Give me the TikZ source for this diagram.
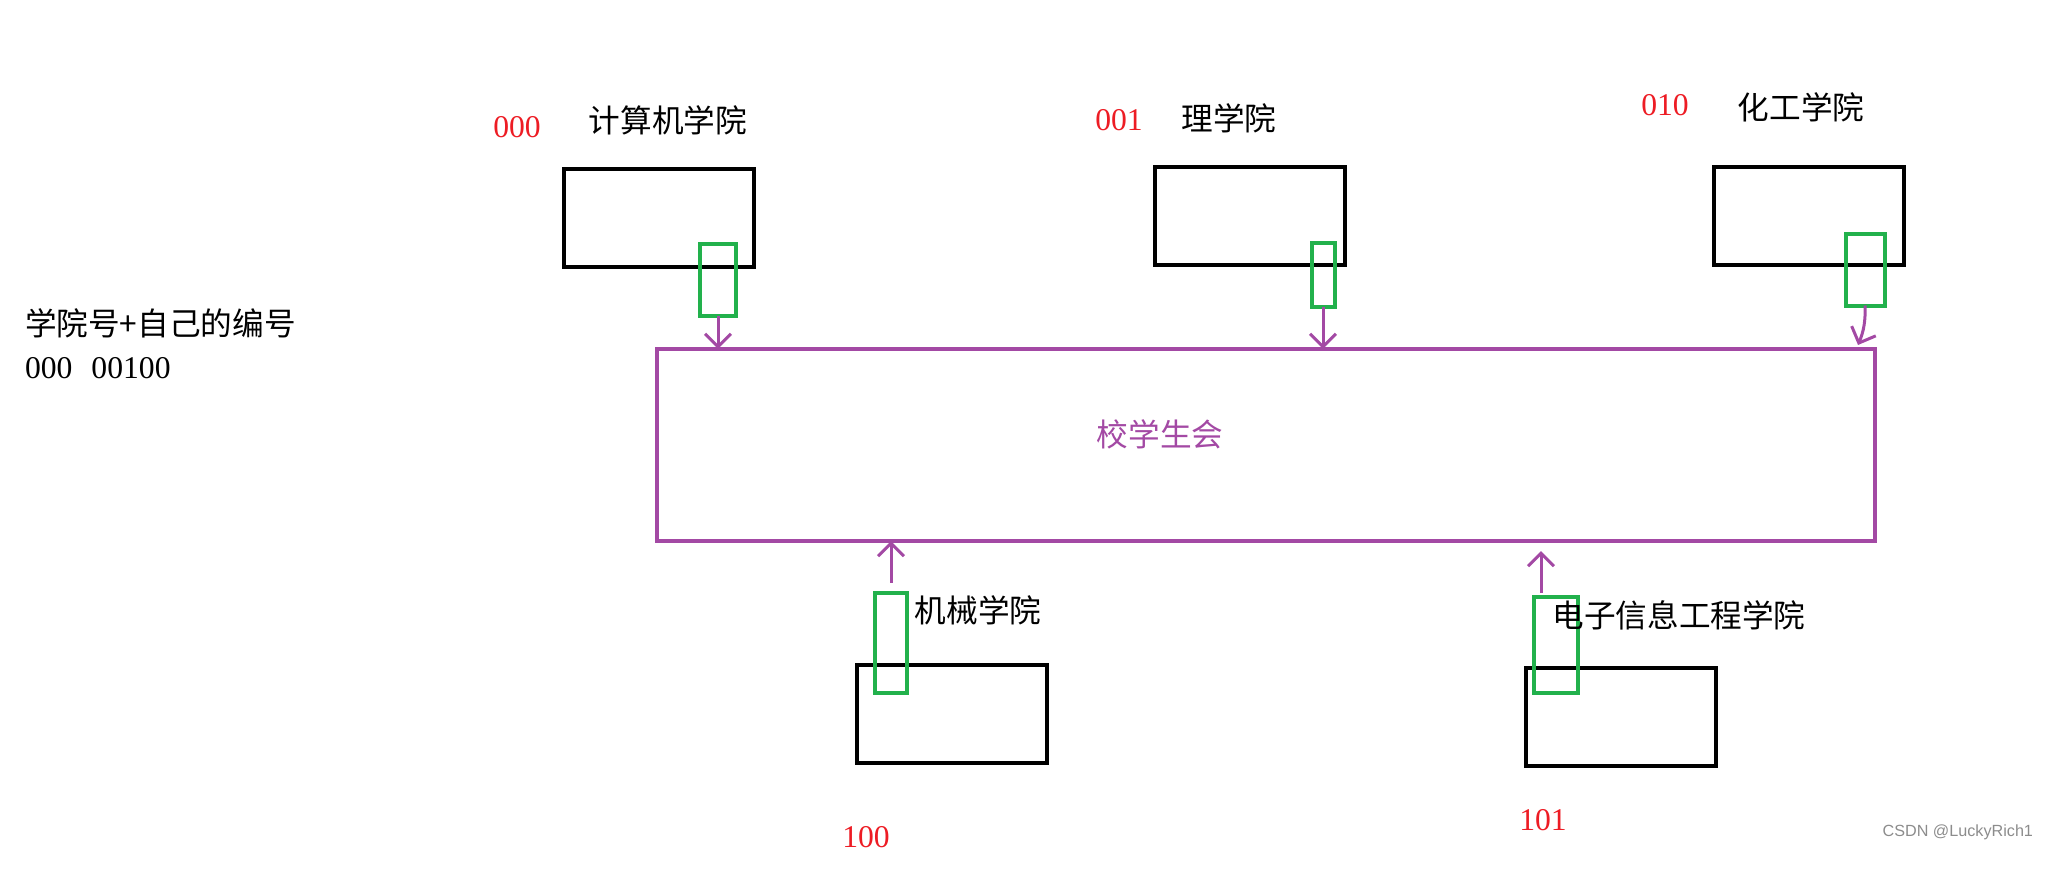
\documentclass[tikz,border=0pt]{standalone}
\usepackage{fontspec}
\setmainfont{Liberation Serif}
\newfontfamily\cjk{Noto Sans CJK SC}
\newfontfamily\wmfont{Liberation Sans}
\usetikzlibrary{positioning, arrows.meta}
\definecolor{paintgreen}{RGB}{34,177,76}
\definecolor{paintpurple}{RGB}{163,73,164}
\definecolor{paintred}{RGB}{237,28,36}

\begin{document}
\begin{tikzpicture}
    [
        x=0.01cm, y=-0.01cm, inner sep=0, outer sep=0,
        font=\fontsize{9}{11}\selectfont,
        college_box/.style={rectangle, draw=black, line width=0.04cm, minimum width=1.9cm, minimum height=0.97cm},
        id_box/.style={rectangle, draw=paintgreen, line width=0.04cm},
        hub_box/.style={rectangle, draw=paintpurple, line width=0.04cm, minimum width=12.17cm, minimum height=1.92cm},
        name_text/.style={text=black, font=\fontsize{9}{11}\selectfont\cjk},
        code_text/.style={text=paintred},
        link/.style={-{Straight Barb[length=1.3mm, width=2.6mm]}, draw=paintpurple, line width=0.03cm},
    ]
        \useasboundingbox (0,0) rectangle (2049,877);
        % colleges
        \node[college_box] (cs) at (659,218) {};
        \node[college_box] (sci) at (1250,216) {};
        \node[college_box] (chem) at (1809,216) {};
        \node[college_box] (mech) at (952,714) {};
        \node[college_box] (ee) at (1621,717) {};
        % school union
        \node[hub_box] (union) at (1266,445) {};
        \node[text=paintpurple, font=\fontsize{9}{11}\selectfont\cjk] (union_name) at (1160,434) {校学生会};
        % id parts
        \node[id_box, minimum width=0.36cm, minimum height=0.71cm] (cs_id) at (718,280) {};
        \node[id_box, minimum width=0.23cm, minimum height=0.63cm] (sci_id) at (1323,275) {};
        \node[id_box, minimum width=0.39cm, minimum height=0.71cm] (chem_id) at (1865,270) {};
        \node[id_box, minimum width=0.32cm, minimum height=1.00cm] (mech_id) at (891,643) {};
        \node[id_box, minimum width=0.44cm, minimum height=0.96cm] (ee_id) at (1556,645) {};
        % names and codes
        \node[name_text] (cs_name) at (668,120) {计算机学院};
        \node[code_text] (cs_code) at (517,127) {000};
        \node[name_text] (sci_name) at (1229,118) {理学院};
        \node[code_text] (sci_code) at (1119,120) {001};
        \node[name_text] (chem_name) at (1801,107) {化工学院};
        \node[code_text] (chem_code) at (1665,105) {010};
        \node[name_text] (mech_name) at (978,610) {机械学院};
        \node[code_text] (mech_code) at (866,837) {100};
        \node[name_text] (ee_name) at (1679,615) {电子信息工程学院};
        \node[code_text] (ee_code) at (1543,820) {101};
        % note on the left
        \node[name_text, anchor=west] (note) at (25,323) {学院号+自己的编号};
        \node[anchor=west] (note_code) at (25,368) {000\hspace{0.6em}00100};
        \node[anchor=east, text=black!45, font=\fontsize{4.6}{5}\selectfont\wmfont] (mark) at (2033,832) {CSDN @LuckyRich1};
        % links
        \coordinate (ee_tail) at (1541,593);
        \coordinate (chem_head) at (1858,345);
        \draw[link] (cs_id.south) -- (cs_id.south |- union.north);
        \draw[link] (sci_id.south) -- (sci_id.south |- union.north);
        \draw[link] (chem_id.south) to[bend left=12] (chem_head);
        \draw[link, shorten <=0.1cm] (mech_id.north) -- (mech_id.north |- union.south);
        \draw[link, shorten >=0.1cm] (ee_tail) -- (ee_tail |- union.south);
    \end{tikzpicture}
\end{document}
